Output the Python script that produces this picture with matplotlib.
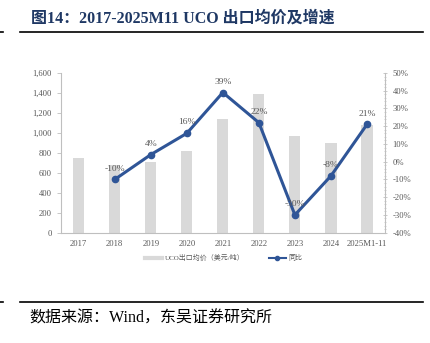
import matplotlib.pyplot as plt
import matplotlib.ticker as mticker
from matplotlib.lines import Line2D

plt.rcParams['font.family'] = ['Liberation Serif', 'Noto Sans CJK SC']

years = ['2017', '2018', '2019', '2020', '2021', '2022', '2023', '2024', '2025M1-11']
price = [752, 680, 708, 820, 1140, 1393, 973, 895, 1076]
yoy = [None, -10, 4, 16, 39, 22, -30, -8, 21]
yoy_labels = ['', '-10%', '4%', '16%', '39%', '22%', '-30%', '-8%', '21%']

bar_c = '#d9d9d9'
line_c = '#2f5597'
txt_c = '#595959'

fig = plt.figure(figsize=(4.30, 3.43), dpi=100)
ax = fig.add_axes([0.1412, 0.3216, 0.7541, 0.4656])
ax2 = ax.twinx()

x = list(range(len(years)))
ax.bar(x, price, width=0.31, color=bar_c, zorder=1)
ax.set_xlim(-0.5, len(years) - 0.5)
ax.set_ylim(0, 1600)
ax.yaxis.set_major_locator(mticker.MultipleLocator(200))
ax.yaxis.set_major_formatter(mticker.FuncFormatter(lambda v, p: f'{int(v):,}'))
ax.set_xticks(x)
ax.set_xticklabels(years)

lx = x[1:]
ly = yoy[1:]
ax2.plot(lx, ly, color=line_c, lw=2.2, marker='o', ms=4.5, zorder=3)
ax2.set_ylim(-40, 50)
ax2.yaxis.set_major_locator(mticker.MultipleLocator(10))
ax2.yaxis.set_minor_locator(mticker.MultipleLocator(2))
ax2.yaxis.set_major_formatter(mticker.FuncFormatter(lambda v, p: f'{int(round(v))}%'))
for xi, yi, lab in zip(lx, ly, yoy_labels[1:]):
    ax2.annotate(lab, (xi, yi), xytext=(0, 5), textcoords='offset points',
                 ha='center', va='bottom', fontsize=6.8, color=txt_c)

for a in (ax, ax2):
    for s in a.spines.values():
        s.set_visible(False)
    a.tick_params(labelsize=6.2, colors=txt_c, length=3, width=0.6)
ax.spines['left'].set_visible(True)
ax.spines['bottom'].set_visible(True)
ax.spines['left'].set_color('#bfbfbf')
ax.spines['bottom'].set_color('#bfbfbf')
ax.tick_params(axis='x', length=0, pad=5)
ax.tick_params(axis='y', color='#bfbfbf')
ax2.spines['right'].set_visible(True)
ax2.spines['right'].set_color('#bfbfbf')
ax2.tick_params(axis='y', which='both', direction='inout', color='#bfbfbf', pad=4)
ax2.tick_params(axis='y', which='minor', length=2, width=0.5)
ax2.tick_params(axis='y', which='major', length=3)

handles = [Line2D([0], [0], color=bar_c, lw=3),
           Line2D([0], [0], color=line_c, lw=1.5, marker='o', ms=3)]
fig.legend(handles, ['UCO出口均价（美元/吨）', '同比'], loc='center',
           bbox_to_anchor=(0.52, 0.248), ncol=2, frameon=False, fontsize=5,
           labelcolor=txt_c, handlelength=2.5, columnspacing=3.5, handletextpad=0.3)

# title, rules and source note
fig.text(0.072, 0.947, '图14：2017-2025M11 UCO 出口均价及增速', fontsize=11.5,
         fontweight='bold', color='#1f3864', va='center')
fig.add_artist(Line2D([0.047, 0.984], [0.907, 0.907], color='black', lw=1.2))
fig.add_artist(Line2D([0.0, 0.007], [0.907, 0.907], color='black', lw=1.2))
fig.add_artist(Line2D([0.047, 0.984], [0.120, 0.120], color='black', lw=1.2))
fig.add_artist(Line2D([0.0, 0.007], [0.120, 0.120], color='black', lw=1.2))
fig.text(0.068, 0.072, '数据来源：Wind，东吴证券研究所', fontsize=11.5,
         color='black', va='center')

fig.savefig('out.png', dpi=100)
